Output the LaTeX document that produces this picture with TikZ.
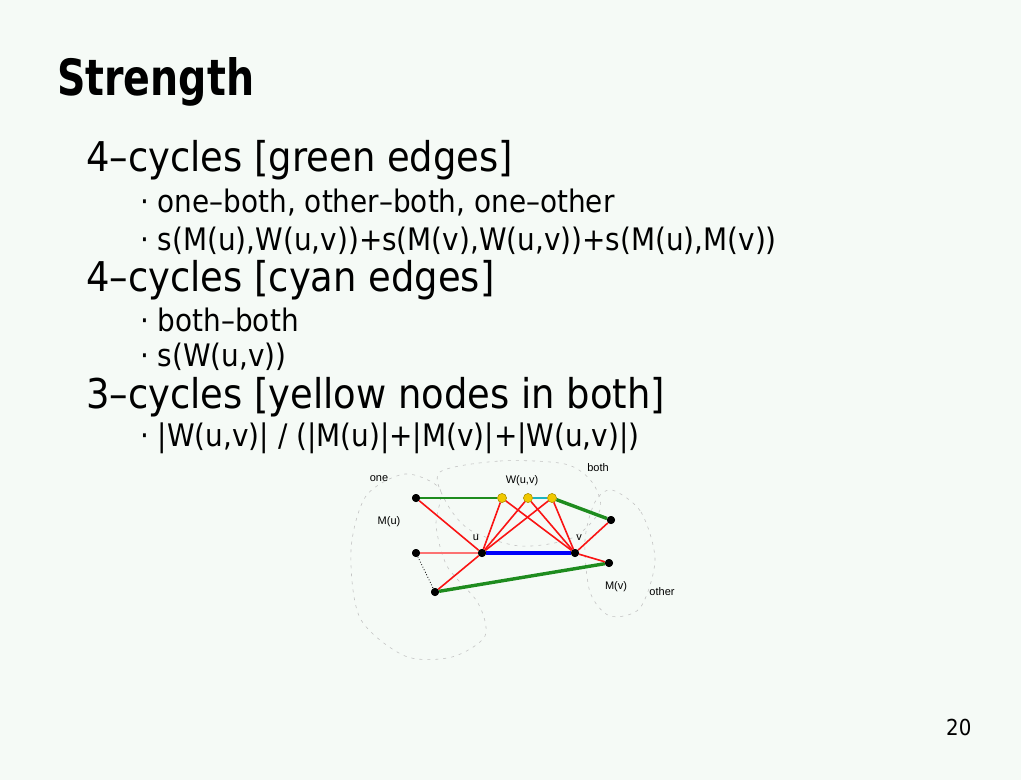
\documentclass[tikz,border=0pt]{standalone}
\usepackage{fontspec}
\setmainfont[FakeStretch=0.9]{DejaVu Sans}
\newfontfamily\titlefont[FakeStretch=0.79]{DejaVu Sans}
\newfontfamily\figfont{Liberation Sans}
\usetikzlibrary{positioning}
\definecolor{slidebg}{RGB}{245,250,246}
\definecolor{edgered}{RGB}{250,20,20}
\definecolor{edgegreen}{RGB}{30,140,30}
\definecolor{edgeblue}{RGB}{0,0,250}
\definecolor{edgecyan}{RGB}{30,180,190}
\definecolor{wyellow}{RGB}{240,200,0}
\definecolor{blobgray}{RGB}{195,195,195}

\begin{document}
\begin{tikzpicture}[x=1pt, y=-1pt,
    title/.style={anchor=west, inner sep=0pt, font=\titlefont\fontsize{50}{50}\selectfont\bfseries},
    topic/.style={anchor=west, inner sep=0pt, font=\fontsize{41}{41}\selectfont},
    item/.style={anchor=west, inner sep=0pt, font=\fontsize{31}{31}\selectfont},
    vtx/.style={circle, fill=black, inner sep=0pt, minimum size=8pt},
    wvtx/.style={circle, fill=wyellow, draw=wyellow!70!black, line width=0.4pt, inner sep=0pt, minimum size=9pt},
    setlbl/.style={font=\figfont\fontsize{11}{11}\selectfont, inner sep=1pt},
    redline/.style={draw=edgered, line width=1.6pt},
    greenline/.style={draw=edgegreen, line width=3.4pt},
    blob/.style={draw=blobgray, dashed, dash pattern=on 3pt off 5pt, line width=0.6pt}
  ]
  % slide background
  \fill[slidebg] (0,0) rectangle (1021,780);
  \useasboundingbox (0,0) rectangle (1021,780);
  % Title and bullets
  \node[title] (ttl) at (57,82) {Strength};
  \node[topic] (t1) at (86,160) {4–cycles [green edges]};
  \node[item] (i11) at (140,203) {· one–both, other–both, one–other};
  \node[item] (i12) at (140,241) {· s(M(u),W(u,v))+s(M(v),W(u,v))+s(M(u),M(v))};
  \node[topic] (t2) at (86,280) {4–cycles [cyan edges]};
  \node[item] (i21) at (140,320) {· both–both};
  \node[item] (i22) at (140,357) {· s(W(u,v))};
  \node[topic] (t3) at (86,397) {3–cycles [yellow nodes in both]};
  \node[item] (i31) at (140,438) {· |W(u,v)| / (|M(u)|+|M(v)|+|W(u,v)|)};
  \node[item, font=\fontsize{22}{22}\selectfont] (pg) at (946,727) {20};
  % Set outlines
  \draw[blob] plot[smooth cycle] coordinates {(405,474) (366,496) (351,550) (360,618) (405,656) (452,657) (485,636) (478,603) (447,566) (436,525) (440,489)};
  \draw[blob] plot[smooth cycle] coordinates {(440,472) (500,461) (565,464) (592,482) (600,510) (572,538) (520,546) (470,530) (446,502)};
  \draw[blob] plot[smooth cycle] coordinates {(612,490) (641,512) (655,560) (640,608) (610,616) (590,592) (585,540) (595,502)};
  % Vertices
  \node[vtx] (mu1) at (416,498) {};
  \node[vtx] (mu2) at (416,553) {};
  \node[vtx] (mu3) at (435,592) {};
  \node[vtx] (u) at (482,553) {};
  \node[vtx] (v) at (575,553) {};
  \node[vtx] (mv1) at (611,520) {};
  \node[vtx] (mv2) at (609,563) {};
  \node[wvtx] (w1) at (502,498) {};
  \node[wvtx] (w2) at (528,498) {};
  \node[wvtx] (w3) at (552,498) {};
  % Edges
  \draw[draw=edgegreen, line width=2.6pt] (mu1) -- (w1);
  \draw[greenline] (w3) -- (mv1);
  \draw[greenline] (mu3) -- (mv2);
  \draw[draw=edgecyan, line width=2.6pt] (w2) -- (w3);
  \draw[draw=edgeblue, line width=4pt] (u) -- (v);
  \draw[draw=edgered!60, line width=1.4pt] (mu2) -- (u);
  \draw[black, dotted, line width=0.8pt] (mu2) -- (mu3);
  \foreach \a in {mu1, mu3, w1, w2, w3}
    \draw[redline] (\a) -- (u);
  \foreach \b in {w1, w2, w3, mv1, mv2}
    \draw[redline] (\b) -- (v);
  % redraw vertices on top
  \foreach \n in {mu1, mu2, mu3, u, v, mv1, mv2}
    \fill (\n) circle (4pt);
  \foreach \n in {w1, w2, w3}
    \filldraw[fill=wyellow, draw=wyellow!70!black, line width=0.4pt] (\n) circle (4.5pt);
  % Labels
  \node[setlbl] (lone) at (379,479) {one};
  \node[setlbl] (lboth) at (598,468) {both};
  \node[setlbl] (lother) at (662,592) {other};
  \node[setlbl] (lw) at (522,481) {W(u,v)};
  \node[setlbl] (lmu) at (389,522) {M(u)};
  \node[setlbl] (lmv) at (616,587) {M(v)};
  \node[setlbl] (lu) at (476,538) {u};
  \node[setlbl] (lv) at (579,538) {v};
\end{tikzpicture}
\end{document}
